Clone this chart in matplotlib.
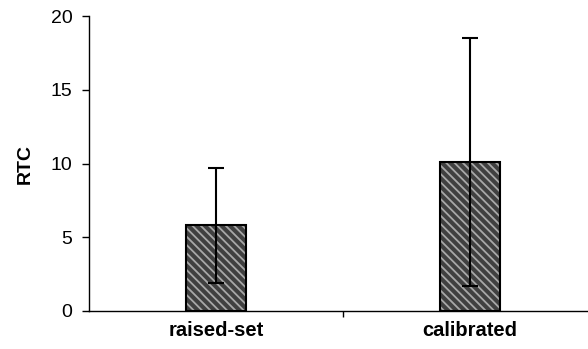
import matplotlib
matplotlib.use("Agg")
import matplotlib.pyplot as plt

categories = ["raised-set", "calibrated"]
means = [5.8, 10.1]
errors = [3.9, 8.4]
yticks = [0, 5, 10, 15, 20]

plt.rcParams['font.family'] = ['Liberation Sans', 'DejaVu Sans']
plt.rcParams['hatch.linewidth'] = 1.3

fig = plt.figure(figsize=(5.88, 3.49), dpi=100)
ax = fig.add_axes([0.1514, 0.109, 0.864, 0.845])

x = list(range(len(categories)))
ax.bar(x, means, width=0.236, color='#404040', edgecolor='#a8a8a8', hatch='\\\\\\\\', linewidth=0, zorder=2)
ax.bar(x, means, width=0.236, fill=False, edgecolor='black', linewidth=1.5, zorder=3)
ax.errorbar(x, means, yerr=errors, fmt='none', ecolor='black', elinewidth=1.5, capsize=6, capthick=1.5, zorder=4)

ax.set_xlim(-0.5, 1.5)
ax.set_ylim(0, 20)
ax.set_yticks(yticks)
ax.set_yticklabels([str(t) for t in yticks], fontsize=14)
ax.set_xticks([0.5])
ax.set_xticklabels([''])
ax.tick_params(axis='x', direction='out', length=4, width=1)
ax.tick_params(axis='y', direction='out', length=5, width=1, pad=7)
for i, c in enumerate(categories):
    ax.text(i, -0.7, c, ha='center', va='top', fontsize=14.5, fontweight='bold', transform=ax.transData)
ax.set_ylabel('RTC', fontsize=14, fontweight='bold', labelpad=12)
ax.spines['top'].set_visible(False)
ax.spines['right'].set_visible(False)
ax.spines['left'].set_linewidth(1)
ax.spines['bottom'].set_linewidth(1)

fig.savefig('out.png', dpi=100)
